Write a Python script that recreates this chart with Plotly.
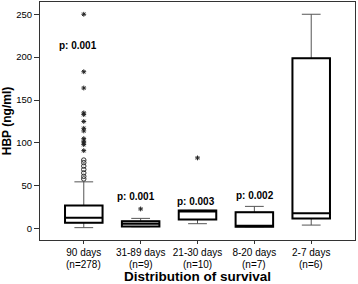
import plotly.graph_objects as go

categories = ["90 days", "31-89 days", "21-30 days", "8-20 days", "2-7 days"]
n_labels = ["(n=278)", "(n=9)", "(n=10)", "(n=7)", "(n=6)"]
lower_fence = [1.2, 2.3, 5.8, 2.3, 4.2]
q1 = [7.0, 2.6, 10.8, 2.3, 12.0]
median = [12.8, 5.8, 20.5, 3.0, 18.1]
q3 = [27.0, 8.8, 21.3, 19.3, 198.6]
upper_fence = [54.6, 12.0, 21.3, 26.0, 250.0]

circle_cat = [0, 0, 0, 0, 0, 0, 0]
circle_val = [58, 61, 65, 69, 73, 77, 80]
star_cat = [0] * 13 + [1, 2]
star_val = [91, 98, 100, 102, 105, 114, 117, 125, 133, 135, 164, 183, 250, 23, 82.5]

p_labels = ["p: 0.001", "p: 0.001", "p: 0.003", "p: 0.002"]
p_x = [-0.11, 0.91, 1.98, 3.01]
p_y = [214, 38, 31.3, 38.7]

FONT = "Arial, Liberation Sans, sans-serif"
xs = list(range(len(categories)))

fig = go.Figure()
# whiskers (thin grey)
fig.add_trace(go.Box(
    x=xs, q1=q1, median=median, q3=q3, lowerfence=lower_fence, upperfence=upper_fence,
    width=0.66, whiskerwidth=0.5, line=dict(color="#555555", width=1),
    fillcolor="white", boxpoints=False, showlegend=False, hoverinfo="skip"))
# boxes (thick black)
fig.add_trace(go.Box(
    x=xs, q1=q1, median=median, q3=q3, lowerfence=q1, upperfence=q3,
    width=0.66, whiskerwidth=0, line=dict(color="black", width=2),
    fillcolor="white", boxpoints=False, showlegend=False, hoverinfo="skip"))
fig.add_trace(go.Scatter(
    x=circle_cat, y=circle_val, mode="markers", showlegend=False,
    marker=dict(symbol="circle-open", size=4.5, color="#333333", line=dict(width=1))))
fig.add_trace(go.Scatter(
    x=star_cat, y=star_val, mode="markers", showlegend=False,
    marker=dict(symbol="asterisk-open", size=4, color="#222222", line=dict(width=1))))

for t, x, y in zip(p_labels, p_x, p_y):
    fig.add_annotation(x=x, y=y, text="<b>%s</b>" % t, showarrow=False,
                       font=dict(family=FONT, size=10, color="black"))

for x, t in zip(xs, n_labels):
    fig.add_annotation(x=x, y=0, xref="x", yref="paper", yanchor="middle",
                       yshift=-24, text=t, showarrow=False,
                       font=dict(family=FONT, size=10, color="black"))

fig.update_layout(
    width=358, height=284,
    margin=dict(l=40, r=3, t=2, b=44),
    paper_bgcolor="white", plot_bgcolor="white",
    boxmode="overlay",
    font=dict(family=FONT, size=10, color="black"),
    xaxis=dict(range=[-0.77, 4.77], tickvals=xs, ticktext=categories, automargin=False,
               showline=True, linecolor="#333333", linewidth=1, mirror=True,
               ticks="outside", ticklen=3, tickcolor="#333333", showgrid=False,
               zeroline=False, tickfont=dict(size=10),
               title=dict(text="<b>Distribution of survival</b>", font=dict(size=13.5), standoff=20)),
    yaxis=dict(range=[-13.2, 264.3], tickvals=[0, 50, 100, 150, 200, 250], automargin=False,
               showline=True, linecolor="#333333", linewidth=1, mirror=True,
               ticks="outside", ticklen=5, tickcolor="#333333", showgrid=False,
               zeroline=False, tickfont=dict(size=9.5),
               title=dict(text="<b>HBP (ng/ml)</b>", font=dict(size=12), standoff=6)),
)

fig.write_html("out.html", config={"displayModeBar": False},
               post_script="document.body.style.margin='0';document.body.style.overflow='hidden';")
